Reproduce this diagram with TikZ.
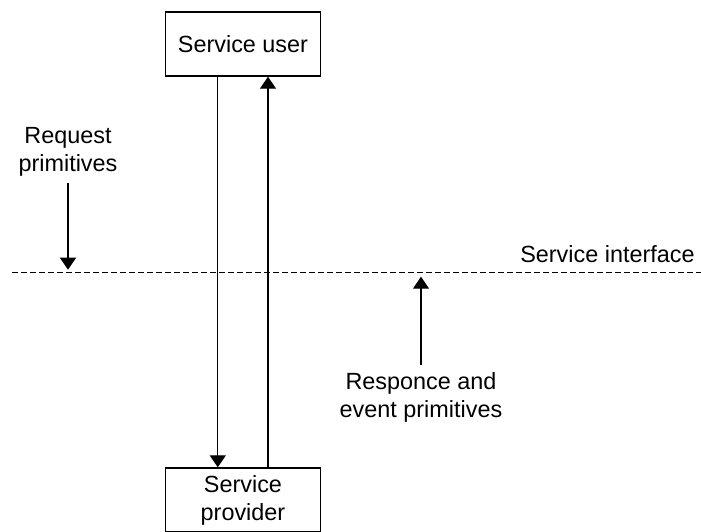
\documentclass[tikz,border=0pt]{standalone}
\usepackage{fontspec}
\setmainfont{Liberation Sans}
\usetikzlibrary{positioning, arrows.meta, calc}

\begin{document}
\begin{tikzpicture}[
    x=0.5pt, y=-0.5pt,
    box/.style={draw, rectangle, line width=0.7pt, align=center, minimum width=77.5pt, minimum height=32pt, inner sep=2pt, font=\fontsize{11.7}{14}\selectfont},
    lbl/.style={align=center, font=\fontsize{11.7}{14}\selectfont},
    arr/.style={-{Triangle[width=8pt, length=6pt]}, line width=0.65pt},
    iface/.style={dash pattern=on 2.8pt off 1.7pt, line width=0.6pt}
]
    \useasboundingbox (0,0) rectangle (701,531);

    % Service user and provider
    \node[box] (user) at (243,44) {Service user};
    \node[box] (prov) at (243,500) {Service\\provider};

    \draw[arr] ([xshift=-12.6pt]user.south) -- ([xshift=-12.6pt]prov.north);
    \draw[arr] ([xshift=12.5pt]prov.north) -- ([xshift=12.5pt]user.south);

    % Service interface
    \coordinate (ifl) at (12,272.7);
    \coordinate (ifr) at (701,272.7);
    \draw[iface] (ifl) -- (ifr);
    \node[lbl, anchor=base east, inner sep=0pt] (ifname) at (695,262) {Service interface};

    % Primitives
    \node[lbl, anchor=south] (req) at (68,183) {Request\\primitives};
    \node[lbl, anchor=north] (resp) at (421,365) {Responce and\\event primitives};

    \draw[arr, shorten >=1.5pt] (req.south) -- (req.south |- ifl);
    \draw[arr, shorten >=2pt] (resp.north) -- (resp.north |- ifl);
\end{tikzpicture}
\end{document}
